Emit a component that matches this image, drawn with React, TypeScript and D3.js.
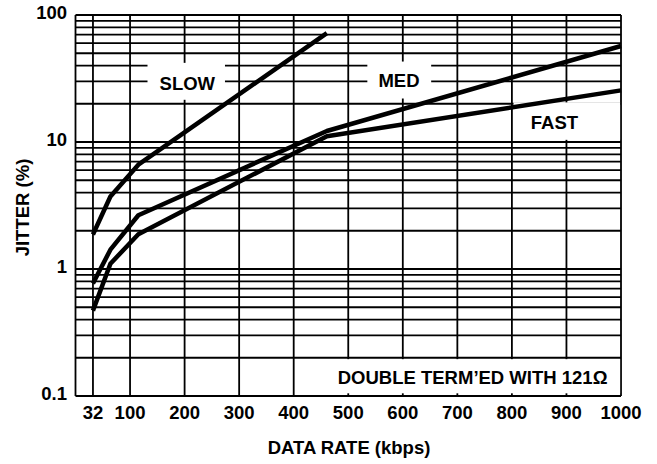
import React from "react";
import * as d3 from "d3";

const W = 657;
const H = 464;

const xTickValues = [32, 100, 200, 300, 400, 500, 600, 700, 800, 900, 1000];
const xTickLabels = ["32", "100", "200", "300", "400", "500", "600", "700", "800", "900", "1000"];
const yDecades = [0.1, 1, 10, 100];
const yDecadeLabels = ["0.1", "1", "10", "100"];

const rates = [32, 64, 115.2, 460.8, 1000];
const slowJitter = [1.87, 3.72, 6.63, 72];
const medJitter = [0.77, 1.42, 2.65, 12.2, 57];
const fastJitter = [0.47, 1.1, 1.88, 11.1, 25.5];

const series = [
  { name: "SLOW", values: slowJitter },
  { name: "MED", values: medJitter },
  { name: "FAST", values: fastJitter },
];

// label boxes (in data coordinates: x in kbps, y in %)
const labelBoxes = [
  { text: "SLOW", x0: 132, x1: 274, y0: 42, y1: 21.5, tx: 205, ty: 29 },
  { text: "MED", x0: 535, x1: 652, y0: 43, y1: 22, tx: 593, ty: 30.5 },
  { text: "FAST", x0: 803, x1: 1000, y0: 20.5, y1: 10.4, tx: 878, ty: 14.2 },
  { text: "DOUBLE TERM\u2019ED WITH 121\u03A9", x0: 467, x1: 1000, y0: 0.195, y1: 0.105, tx: 728, ty: 0.139 },
];

const FONT = "'Liberation Sans', Arial, Helvetica, sans-serif";
const FS = 18.5;

export default function App() {
  const x = d3.scaleLinear().domain([0, 1000]).range([75.5, 621]);
  const y = d3.scaleLog().domain([0.1, 100]).range([396, 15]);

  const hLines: number[] = [];
  for (const d of [0.1, 1, 10]) {
    for (let k = 1; k <= 9; k++) hLines.push(d * k);
  }
  hLines.push(100);

  const vLines = [0, ...xTickValues];

  const line = d3
    .line<[number, number]>()
    .x((d) => x(d[0]))
    .y((d) => y(d[1]));

  return (
    <svg
      width={W}
      height={H}
      style={{ position: "absolute", left: 0, top: 0, background: "#fff" }}
      fontFamily={FONT}
      fontWeight="bold"
    >
      <rect x={0} y={0} width={W} height={H} fill="#fff" />
      <g stroke="#000" strokeWidth={1.8}>
        {hLines.map((v, i) => (
          <line key={"h" + i} x1={x(0)} x2={x(1000)} y1={y(v)} y2={y(v)} />
        ))}
        {vLines.map((v, i) => (
          <line key={"v" + i} x1={x(v)} x2={x(v)} y1={y(100)} y2={y(0.1)} />
        ))}
      </g>
      {labelBoxes.map((b, i) => (
        <rect
          key={"b" + i}
          x={x(b.x0)}
          y={y(b.y0)}
          width={x(b.x1) - x(b.x0) - (b.x1 === 1000 ? 0.9 : 0)}
          height={y(b.y1) - y(b.y0)}
          fill="#fff"
        />
      ))}
      {labelBoxes.map((b, i) => (
        <text
          key={"t" + i}
          x={x(b.tx)}
          y={y(b.ty)}
          textAnchor="middle"
          dominantBaseline="central"
          fontSize={FS}
          fill="#000"
        >
          {b.text}
        </text>
      ))}
      <g fill="none" stroke="#000" strokeWidth={4.5} strokeLinejoin="round" strokeLinecap="butt">
        {series.map((s) => (
          <path
            key={s.name}
            d={line(s.values.map((v, i) => [rates[i], v] as [number, number])) || ""}
          />
        ))}
      </g>
      {xTickValues.map((v, i) => (
        <text key={"xl" + i} x={x(v)} y={419} textAnchor="middle" fontSize={FS} fill="#000">
          {xTickLabels[i]}
        </text>
      ))}
      {yDecades.map((v, i) => (
        <text
          key={"yl" + i}
          x={67}
          y={y(v) - 3}
          textAnchor="end"
          dominantBaseline="central"
          fontSize={FS}
          fill="#000"
        >
          {yDecadeLabels[i]}
        </text>
      ))}
      <text x={349} y={454} textAnchor="middle" fontSize={FS} fill="#000">
        DATA RATE (kbps)
      </text>
      <text
        transform={`translate(29, ${(y(100) + y(0.1)) / 2 + 2}) rotate(-90)`}
        textAnchor="middle"
        fontSize={FS}
        fill="#000"
      >
        JITTER (%)
      </text>
    </svg>
  );
}
